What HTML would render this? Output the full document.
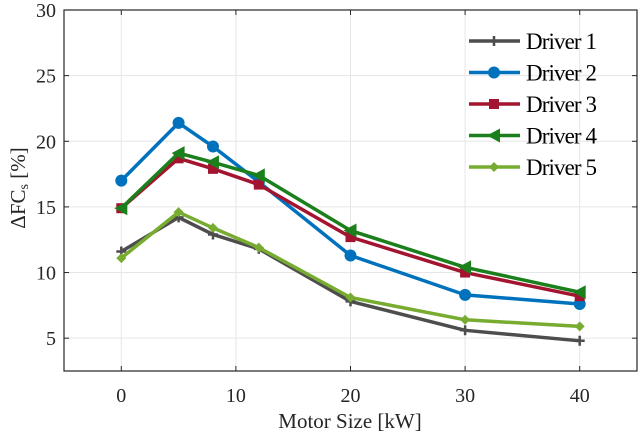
<!DOCTYPE html>
<html><head><meta charset="utf-8"><style>
html,body{margin:0;padding:0;background:#fff;}
svg{display:block;font-family:"Liberation Serif",serif;}
</style></head><body>
<svg id="chart" width="640" height="437" viewBox="0 0 640 437">
<g id="grid"></g>
<g id="axes"></g>
<g id="series"></g>
<g id="legend"></g>
<text x="350" y="428" font-size="21" text-anchor="middle" fill="#262626">Motor Size [kW]</text>
<text transform="translate(25,188) rotate(-90)" font-size="21" text-anchor="middle" fill="#262626">ΔFC<tspan font-size="14" dy="3">s</tspan><tspan dy="-3"> [%]</tspan></text>
</svg>
<script>
const categories = [0, 5, 8, 12, 20, 30, 40];
const driver1 = [11.6, 14.2, 12.9, 11.8, 7.8, 5.6, 4.8];
const driver2 = [17.0, 21.4, 19.6, 16.9, 11.3, 8.3, 7.6];
const driver3 = [14.9, 18.7, 17.9, 16.7, 12.7, 10.0, 8.2];
const driver4 = [14.9, 19.1, 18.4, 17.4, 13.2, 10.4, 8.5];
const driver5 = [11.1, 14.6, 13.4, 11.9, 8.1, 6.4, 5.9];
const seriesNames = ["Driver 1", "Driver 2", "Driver 3", "Driver 4", "Driver 5"];
const xTicks = [0, 10, 20, 30, 40];
const yTicks = [5, 10, 15, 20, 25, 30];

const NS = "http://www.w3.org/2000/svg";
const L = 64, R = 637, T = 10, B = 371;
const xMin = -5, xMax = 45, yMin = 2.5, yMax = 30;
function sx(v){ return L + (v - xMin) / (xMax - xMin) * (R - L); }
function sy(v){ return B - (v - yMin) / (yMax - yMin) * (B - T); }
function mk(tag, attrs, parent){
  const e = document.createElementNS(NS, tag);
  for (const k in attrs) e.setAttribute(k, attrs[k]);
  parent.appendChild(e);
  return e;
}
const grid = document.getElementById('grid');
const axes = document.getElementById('axes');
xTicks.forEach(t => {
  const g = mk('line', {x1: sx(t), x2: sx(t), y1: T, y2: B, stroke: '#e6e6e6', 'stroke-width': 1}, grid);
  
  
  mk('line', {x1: sx(t), x2: sx(t), y1: B, y2: B - 5, stroke: '#262626'}, axes);
  mk('line', {x1: sx(t), x2: sx(t), y1: T, y2: T + 5, stroke: '#262626'}, axes);
  const tx = mk('text', {x: sx(t), y: 402, 'font-size': 20, 'text-anchor': 'middle', fill: '#262626'}, axes);
  tx.textContent = t;
  
  
});
yTicks.forEach(t => {
  const g = mk('line', {x1: L, x2: R, y1: sy(t), y2: sy(t), stroke: '#e6e6e6', 'stroke-width': 1}, grid);
  
  
  mk('line', {x1: L, x2: L + 5, y1: sy(t), y2: sy(t), stroke: '#262626'}, axes);
  mk('line', {x1: R, x2: R - 5, y1: sy(t), y2: sy(t), stroke: '#262626'}, axes);
  const tx = mk('text', {x: 56, y: sy(t) + 7, 'font-size': 20, 'text-anchor': 'end', fill: '#262626'}, axes);
  tx.textContent = t;
  
  
});
const box = mk('rect', {x: L, y: T, width: R - L, height: B - T, fill: 'none', stroke: '#262626', 'stroke-width': 1.2}, axes);



const allData = [driver1, driver2, driver3, driver4, driver5];
const colors = ['#4d4d4d', '#0072bd', '#a2142f', '#1b801b', '#77ac30'];
const markers = ['plus', 'circle', 'square', 'triangle', 'diamond'];
function marker(type, x, y, c, parent){
  let e;
  if (type === 'plus') e = mk('path', {d: `M${x-5},${y}H${x+5}M${x},${y-5}V${y+5}`, stroke: c, 'stroke-width': 2.5, fill: 'none'}, parent);
  else if (type === 'circle') e = mk('circle', {cx: x, cy: y, r: 6, fill: c}, parent);
  else if (type === 'square') e = mk('rect', {x: x - 5, y: y - 5, width: 10, height: 10, fill: c}, parent);
  else if (type === 'triangle') e = mk('path', {d: `M${x-7},${y}L${x+6},${y-7}L${x+6},${y+7}Z`, fill: c}, parent);
  else e = mk('path', {d: `M${x},${y-5}L${x+5},${y}L${x},${y+5}L${x-5},${y}Z`, fill: c}, parent);
  return e;
}
const sg = document.getElementById('series');
allData.forEach((d, i) => {
  const g = mk('g', {}, sg);
  
  
  const pts = d.map((v, j) => sx(categories[j]) + ',' + sy(v)).join(' ');
  const pl = mk('polyline', {points: pts, fill: 'none', stroke: colors[i], 'stroke-width': 3.5, 'stroke-linejoin': 'round'}, g);
  
  
  d.forEach((v, j) => {
    const m = marker(markers[i], sx(categories[j]), sy(v), colors[i], g);
    
    
  });
});
const lg = document.getElementById('legend');
seriesNames.forEach((n, i) => {
  const y = 41 + i * 31.5;
  const g = mk('g', {}, lg);
  
  
  mk('line', {x1: 469, x2: 520, y1: y, y2: y, stroke: colors[i], 'stroke-width': 3.5}, g);
  marker(markers[i], 494, y, colors[i], g);
  const t = mk('text', {x: 526, y: y + 8, 'font-size': 23, fill: '#000', textLength: 71}, g);
  t.textContent = n;
});
</script>
</body></html>
